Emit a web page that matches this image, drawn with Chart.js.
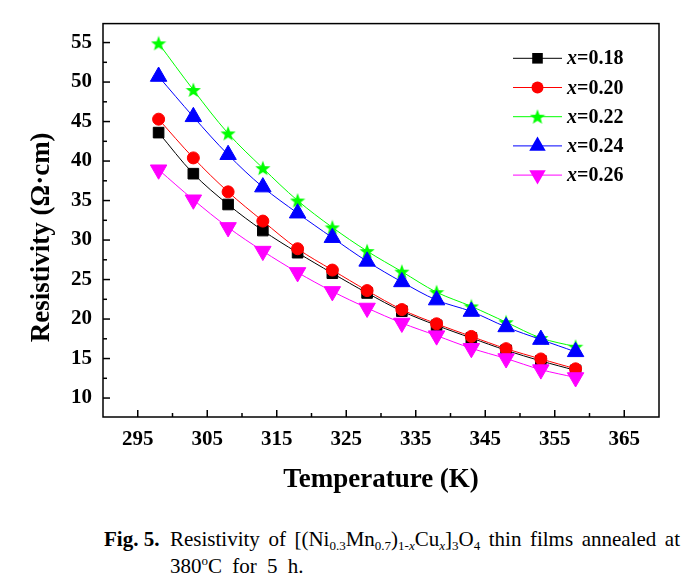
<!DOCTYPE html>
<html lang="en">
  <head>
    <meta charset="UTF-8" />
    <title>Resistivity vs temperature</title>
    <style>
      body { margin: 0; background: #fff; }
      #wrap { position: relative; width: 698px; height: 500px; }
      .caption {
        position: absolute; left: 104px; top: 526px; width: 576px;
        display: flex; color: #000;
        font-family: "Liberation Serif", "Times New Roman", serif;
        font-size: 21px; line-height: 27px;
      }
      .caption .lab { font-weight: bold; width: 66px; flex: none; }
      .caption .txt { flex: 1; }
      .caption .l1 { text-align: justify; text-align-last: justify; }
      .caption .l2 { word-spacing: 5px; }
      .caption sub { font-size: 13px; vertical-align: -4px; line-height: 0; }
      .caption sup { font-size: 13px; vertical-align: 8px; line-height: 0; }
    </style>
  </head>
  <body>
    <div id="wrap">
      <canvas id="myChart" width="698" height="500"></canvas>
    </div>
    <div class="caption">
      <div class="lab">Fig. 5.</div>
      <div class="txt">
        <div class="l1">Resistivity of [(Ni<sub>0.3</sub>Mn<sub>0.7</sub>)<sub>1-<i>x</i></sub>Cu<sub><i>x</i></sub>]<sub>3</sub>O<sub>4</sub> thin films annealed at</div>
        <div class="l2">380<sup>o</sup>C for 5 h.</div>
      </div>
    </div>

    <script src="https://cdn.jsdelivr.net/npm/chart.js@4"></script>
    <script>
      // data
      var temperatures = [298, 303, 308, 313, 318, 323, 328, 333, 338, 343, 348, 353, 358];
      var seriesNames = ["0.18", "0.20", "0.22", "0.24", "0.26"];
      var rhoX018 = [43.6, 38.4, 34.5, 31.2, 28.4, 25.8, 23.3, 21.0, 19.2, 17.6, 16.05, 14.7, 13.5];
      var rhoX020 = [45.3, 40.4, 36.1, 32.4, 28.9, 26.2, 23.6, 21.2, 19.4, 17.8, 16.25, 14.95, 13.7];
      var rhoX022 = [54.9, 49.0, 43.5, 39.1, 35.0, 31.6, 28.6, 26.0, 23.4, 21.6, 19.6, 17.6, 16.5];
      var rhoX024 = [50.7, 45.6, 40.8, 36.7, 33.4, 30.3, 27.3, 24.7, 22.4, 20.95, 19.0, 17.4, 15.85];
      var rhoX026 = [38.9, 35.1, 31.6, 28.6, 25.9, 23.5, 21.4, 19.5, 17.9, 16.3, 15.0, 13.6, 12.6];
      var xTickValues = [295, 305, 315, 325, 335, 345, 355, 365];
      var xMinorTicks = [300, 310, 320, 330, 340, 350, 360];
      var yTickValues = [10, 15, 20, 25, 30, 35, 40, 45, 50, 55];
      var yMinorTicks = [12.5, 17.5, 22.5, 27.5, 32.5, 37.5, 42.5, 47.5, 52.5];

      var serif = '"Liberation Serif", "Times New Roman", serif';
      var colors = ["#000000", "#FF0000", "#00FF00", "#0000FF", "#FF00FF"];

      function makeStar(size, color) {
        var c = document.createElement("canvas");
        c.width = size;
        c.height = size;
        var g = c.getContext("2d");
        var cx = size / 2, cy = size / 2 + 0.6, R = size / 2, r = R * 0.42;
        g.beginPath();
        for (var i = 0; i < 10; i++) {
          var a = -Math.PI / 2 + (i * Math.PI) / 5;
          var rad = i % 2 ? r : R;
          g.lineTo(cx + rad * Math.cos(a), cy + rad * Math.sin(a));
        }
        g.closePath();
        g.fillStyle = color;
        g.fill();
        return c;
      }

      var star = makeStar(16, colors[2]);
      var markers = [
        { style: "rect", radius: 7.5, rotation: 0 },
        { style: "circle", radius: 6, rotation: 0 },
        { style: star, radius: 8, rotation: 0 },
        { style: "triangle", radius: 9.5, rotation: 0 },
        { style: "triangle", radius: 9.5, rotation: 180 },
      ];
      var allSeries = [rhoX018, rhoX020, rhoX022, rhoX024, rhoX026];

      var datasets = allSeries.map(function (vals, i) {
        return {
          label: "x=" + seriesNames[i],
          data: vals.map(function (v, j) {
            return { x: temperatures[j], y: v };
          }),
          borderColor: colors[i],
          backgroundColor: colors[i],
          borderWidth: 1,
          tension: 0.35,
          pointStyle: markers[i].style,
          pointRadius: markers[i].radius,
          pointRotation: markers[i].rotation,
          pointBorderWidth: 1,
          pointBorderColor: colors[i],
          pointBackgroundColor: colors[i],
          order: 5 - i,
        };
      });

      // box, inward ticks (major + minor)
      var framePlugin = {
        id: "frame",
        afterDraw: function (chart) {
          var ctx = chart.ctx, a = chart.chartArea;
          var x = chart.scales.x, y = chart.scales.y;
          ctx.save();
          ctx.strokeStyle = "#000";
          ctx.lineWidth = 1.5;
          ctx.strokeRect(a.left, a.top, a.right - a.left, a.bottom - a.top);
          function seg(x1, y1, x2, y2) {
            ctx.beginPath();
            ctx.moveTo(x1, y1);
            ctx.lineTo(x2, y2);
            ctx.stroke();
          }
          xTickValues.forEach(function (v) {
            var px = x.getPixelForValue(v);
            seg(px, a.bottom, px, a.bottom - 7);
          });
          xMinorTicks.forEach(function (v) {
            var px = x.getPixelForValue(v);
            seg(px, a.bottom, px, a.bottom - 4);
          });
          yTickValues.forEach(function (v) {
            var py = y.getPixelForValue(v);
            seg(a.left, py, a.left + 7, py);
          });
          yMinorTicks.forEach(function (v) {
            var py = y.getPixelForValue(v);
            seg(a.left, py, a.left + 4, py);
          });

          // y title, sits a bit below the plot centre like the original
          ctx.translate(42, (a.top + a.bottom) / 2 + 17);
          ctx.rotate(-Math.PI / 2);
          ctx.fillStyle = "#000";
          ctx.font = "bold 27px " + serif;
          ctx.textAlign = "center";
          ctx.textBaseline = "middle";
          ctx.fillText("Resistivity (\u03A9\u00B7cm)", 0, 0);
          ctx.restore();
        },
      };

      function drawMarker(ctx, m, color, cx, cy) {
        ctx.fillStyle = color;
        if (typeof m.style !== "string") {
          ctx.drawImage(m.style, cx - m.style.width / 2, cy - m.style.height / 2);
          return;
        }
        ctx.beginPath();
        if (m.style === "rect") {
          var s = Math.SQRT1_2 * m.radius;
          ctx.rect(cx - s, cy - s, 2 * s, 2 * s);
        } else if (m.style === "circle") {
          ctx.arc(cx, cy, m.radius, 0, Math.PI * 2);
        } else {
          var rad = (m.rotation * Math.PI) / 180;
          for (var k = 0; k < 3; k++) {
            ctx.lineTo(cx + Math.sin(rad) * m.radius, cy - Math.cos(rad) * m.radius);
            rad += (2 * Math.PI) / 3;
          }
          ctx.closePath();
        }
        ctx.fill();
      }

      var legendPlugin = {
        id: "boxLegend",
        afterDraw: function (chart) {
          var ctx = chart.ctx, a = chart.chartArea;
          ctx.save();
          seriesNames.forEach(function (name, i) {
            var cy = a.top + 34.7 + i * 29.2;
            var x1 = a.right - 146, x2 = a.right - 97;
            ctx.strokeStyle = colors[i];
            ctx.lineWidth = 1;
            ctx.beginPath();
            ctx.moveTo(x1, cy);
            ctx.lineTo(x2, cy);
            ctx.stroke();
            drawMarker(ctx, markers[i], colors[i], (x1 + x2) / 2, cy);
            var tx = a.right - 92;
            ctx.fillStyle = "#000";
            ctx.textBaseline = "middle";
            ctx.font = "italic bold 20px " + serif;
            ctx.fillText("x", tx, cy + 1);
            tx += ctx.measureText("x").width;
            ctx.font = "bold 20px " + serif;
            ctx.fillText("=" + name, tx, cy + 1);
          });
          ctx.restore();
        },
      };

      var tickFont = { family: serif, size: 21, weight: "bold" };

      new Chart(document.getElementById("myChart"), {
        type: "line",
        data: { datasets: datasets },
        plugins: [framePlugin, legendPlugin],
        options: {
          responsive: false,
          animation: false,
          layout: { padding: { left: 0, right: 39, top: 11, bottom: 0 } },
          plugins: { legend: { display: false }, tooltip: { enabled: false } },
          scales: {
            x: {
              type: "linear",
              min: 290,
              max: 370,
              afterBuildTicks: function (s) {
                s.ticks = xTickValues.map(function (v) { return { value: v }; });
              },
              afterFit: function (s) { s.height = 83; },
              grid: { display: false, drawTicks: false },
              border: { display: false },
              ticks: { font: tickFont, color: "#000", padding: 10, maxRotation: 0, autoSkip: false },
              title: {
                display: true,
                text: "Temperature (K)",
                color: "#000",
                font: { family: serif, size: 27, weight: "bold" },
                padding: { top: 0, bottom: 4 },
              },
            },
            y: {
              min: 7.6,
              max: 57.4,
              afterBuildTicks: function (s) {
                s.ticks = yTickValues.map(function (v) { return { value: v }; });
              },
              afterFit: function (s) { s.width = 103; },
              grid: { display: false, drawTicks: false },
              border: { display: false },
              ticks: { font: tickFont, color: "#000", padding: 11, autoSkip: false },
            },
          },
        },
      });
    </script>
  </body>
</html>
